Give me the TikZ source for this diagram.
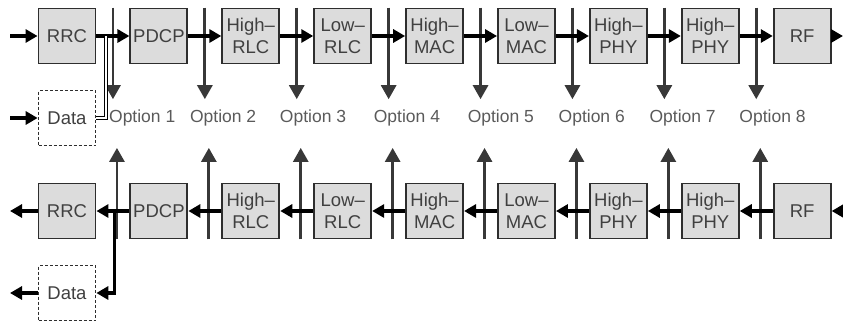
\documentclass[tikz,border=0pt]{standalone}
\usepackage{fontspec}
\setmainfont{Liberation Sans}
\usepackage{tikz}
\usetikzlibrary{arrows.meta,positioning,calc}
\definecolor{caja}{HTML}{DCDCDC}
\definecolor{borde}{HTML}{2E2E2E}
\definecolor{texto}{HTML}{404040}
\definecolor{gris}{HTML}{5A5A5A}
\definecolor{linea}{HTML}{383838}

\begin{document}
\begin{tikzpicture}[x=1pt,y=-1pt,node distance=33pt and 33pt,
  box/.style={draw=borde,line width=1.9pt,fill=caja,minimum width=57pt,minimum height=55pt,inner sep=0pt,align=center,font=\fontsize{18.5}{22}\selectfont,text=texto},
  databox/.style={box,fill=white,line width=1.7pt,dash pattern=on 3pt off 2pt},
  flecha/.style={line width=3.2pt,-{Triangle[length=12pt,width=13pt]}},
  corte/.style={draw=linea,line width=2.8pt,-{Triangle[length=14pt,width=15pt]}},
  opcion/.style={anchor=west,inner sep=0pt,font=\fontsize{17.5}{20}\selectfont,text=gris}]
\useasboundingbox (0,0) rectangle (843,324);
% downlink row
\node[box] (rrc) at (67,36) {RRC};
\node[box,right=of rrc] (pdcp) {PDCP};
\node[box,right=of pdcp] (hrlc) {High–\\RLC};
\node[box,right=of hrlc] (lrlc) {Low–\\RLC};
\node[box,right=of lrlc] (hmac) {High–\\MAC};
\node[box,right=of hmac] (lmac) {Low–\\MAC};
\node[box,right=of lmac] (hphy) {High–\\PHY};
\node[box,right=of hphy] (hphyb) {High–\\PHY};
\node[box,right=of hphyb] (rf) {RF};
\node[databox] (data) at (67,118) {Data};
% uplink row
\node[box] (rrc2) at (67,211) {RRC};
\node[box,right=of rrc2] (pdcp2) {PDCP};
\node[box,right=of pdcp2] (hrlc2) {High–\\RLC};
\node[box,right=of hrlc2] (lrlc2) {Low–\\RLC};
\node[box,right=of lrlc2] (hmac2) {High–\\MAC};
\node[box,right=of hmac2] (lmac2) {Low–\\MAC};
\node[box,right=of lmac2] (hphy2) {High–\\PHY};
\node[box,right=of hphy2] (hphyb2) {High–\\PHY};
\node[box,right=of hphyb2] (rf2) {RF};
\node[databox] (data2) at (67,293) {Data};
% split options
\foreach \i/\l/\r/\d in {1/rrc/pdcp/-4,2/pdcp/hrlc/-15,3/hrlc/lrlc/-17,4/lrlc/hmac/-15,5/hmac/lmac/-13,6/lmac/hphy/-14,7/hphy/hphyb/-15,8/hphyb/rf/-17}{
  \coordinate (a\i) at ($(\l.north east)!0.5!(\r.north west)$);
  \coordinate (b\i) at ($(\l2.south east)!0.5!(\r2.south west)+(4,0)$);
  \node[opcion] (o\i) at ($(a\i)+(\d,110)$) {Option \i};
  \draw[corte,shorten >=10pt] (a\i) -- (a\i |- o\i.north);
  \draw[corte,shorten >=22pt] (b\i) -- (b\i |- o\i.south);
}
\coordinate (in) at (10,36); \coordinate (out) at (843,36);
\coordinate (ind) at (10,118);
\coordinate (in2) at (843,211); \coordinate (out2) at (10,211);
\coordinate (outd) at (10,293);
\coordinate (junta) at ($(rrc.east)+(9.5,0)$);
\coordinate (junta2) at ($(rrc2.east)+(18,0)$);
\draw[flecha] (in)--(rrc); \draw[flecha] (ind)--(data);
\draw[flecha] (rrc)--(pdcp); \draw[flecha] (pdcp)--(hrlc); \draw[flecha] (hrlc)--(lrlc);
\draw[flecha] (lrlc)--(hmac); \draw[flecha] (hmac)--(lmac); \draw[flecha] (lmac)--(hphy);
\draw[flecha] (hphy)--(hphyb); \draw[flecha] (hphyb)--(rf); \draw[flecha] (rf)--(out);
\draw[line width=0.8pt,double distance=2.6pt] (data.east) -| (junta);
\draw[flecha] (in2)--(rf2); \draw[flecha] (rf2)--(hphyb2); \draw[flecha] (hphyb2)--(hphy2);
\draw[flecha] (hphy2)--(lmac2); \draw[flecha] (lmac2)--(hmac2); \draw[flecha] (hmac2)--(lrlc2);
\draw[flecha] (lrlc2)--(hrlc2); \draw[flecha] (hrlc2)--(pdcp2); \draw[flecha] (pdcp2)--(rrc2);
\draw[flecha] (rrc2)--(out2); \draw[flecha] (data2)--(outd);
\draw[flecha] (junta2) |- (data2.east);
\end{tikzpicture}
\end{document}
